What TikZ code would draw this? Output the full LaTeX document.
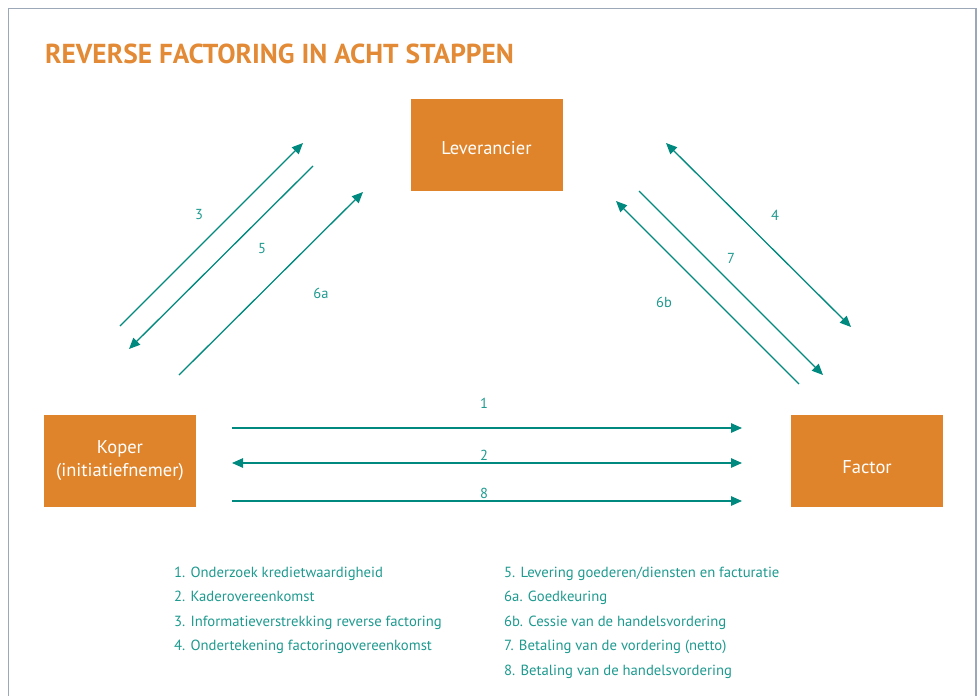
\documentclass[tikz,border=0pt]{standalone}
\usepackage{fontspec}
\setmainfont{PT Sans}
\usetikzlibrary{arrows.meta}

\definecolor{oranje}{HTML}{E0842B}
\definecolor{titeloranje}{HTML}{E28A35}
\definecolor{petrol}{HTML}{00897E}
\definecolor{petroltekst}{HTML}{1E9A8F}
\definecolor{kader}{HTML}{9CA8B8}

\tikzset{
  partij/.style = {fill = oranje, text = white, minimum width = 152pt, minimum height = 92pt,
                   align = center, inner sep = 0pt, font = \fontsize{18.5}{23}\selectfont},
  stroom/.style = {draw = petrol, line width = 1.3pt, >={Triangle[length = 11pt, width = 9.5pt]}},
  nummer/.style = {text = petroltekst, inner sep = 0pt, font = \fontsize{14.5}{17}\selectfont},
  legenda/.style = {text = petroltekst, anchor = base west, inner sep = 0pt, font = \fontsize{14.7}{18}\selectfont}
}

\begin{document}
\begin{tikzpicture}[x = 1pt, y = -1pt]

\useasboundingbox (0,0) rectangle (977,696);
\draw [kader, line width = 1.5pt] (8.5,696) -- (8.5,8.5) -- (976,8.5) -- (976,696);

\node [anchor = base west, inner sep = 0pt, text = titeloranje, font = \fontsize{27.4}{30}\selectfont\bfseries] (titel) at (45,63) {REVERSE FACTORING IN ACHT STAPPEN};

\node [partij, text height = 19pt, text depth = 0pt] (lev) at (486.5,144.5) {Leverancier};
\node [partij] (kop) at (120,460.5) {Koper\\(initiatiefnemer)};
\node [partij, text height = 25pt, text depth = 0pt] (fac) at (867,461) {Factor};

% koper - factor
\coordinate (h1a) at (232,428);
\coordinate (h1b) at (742,428);
\coordinate (h2a) at (232,463);
\coordinate (h2b) at (742,463);
\coordinate (h8a) at (232,501);
\coordinate (h8b) at (742,501);

% koper - leverancier
\coordinate (l3a) at (120,326);
\coordinate (l3b) at (303,143);
\coordinate (l5a) at (313,166);
\coordinate (l5b) at (129,349);
\coordinate (l6a) at (179,375);
\coordinate (l6b) at (363,192);

% leverancier - factor
\coordinate (r4a) at (666,143);
\coordinate (r4b) at (851,327);
\coordinate (r7a) at (639,191);
\coordinate (r7b) at (823,375);
\coordinate (r6a) at (799,384);
\coordinate (r6b) at (616,201);

\draw [stroom, ->] (h1a) -- (h1b);
\draw [stroom, <->] (h2a) -- (h2b);
\draw [stroom, ->] (h8a) -- (h8b);
\draw [stroom, ->] (l3a) -- (l3b);
\draw [stroom, ->] (l5a) -- (l5b);
\draw [stroom, ->] (l6a) -- (l6b);
\draw [stroom, <->] (r4a) -- (r4b);
\draw [stroom, ->] (r7a) -- (r7b);
\draw [stroom, ->] (r6a) -- (r6b);

\node [nummer] (n1) at (484,403) {1};
\node [nummer] (n2) at (484,455) {2};
\node [nummer] (n8) at (484,493) {8};
\node [nummer] (n3) at (199,215) {3};
\node [nummer] (n5) at (262,249) {5};
\node [nummer] (n6a) at (321,293) {6a};
\node [nummer] (n4) at (775,215) {4};
\node [nummer] (n7) at (731,258) {7};
\node [nummer] (n6b) at (664,302) {6b};

\node [legenda] (s1) at (174,577) {1. Onderzoek kredietwaardigheid};
\node [legenda] (s2) at (174,601.5) {2. Kaderovereenkomst};
\node [legenda] (s3) at (174,626) {3. Informatieverstrekking reverse factoring};
\node [legenda] (s4) at (174,650.5) {4. Ondertekening factoringovereenkomst};
\node [legenda] (s5) at (504,577) {5. Levering goederen/diensten en facturatie};
\node [legenda] (s6a) at (504,601.5) {6a. Goedkeuring};
\node [legenda] (s6b) at (504,626) {6b. Cessie van de handelsvordering};
\node [legenda] (s7) at (504,650.5) {7. Betaling van de vordering (netto)};
\node [legenda] (s8) at (504,675) {8. Betaling van de handelsvordering};

\end{tikzpicture}
\end{document}
